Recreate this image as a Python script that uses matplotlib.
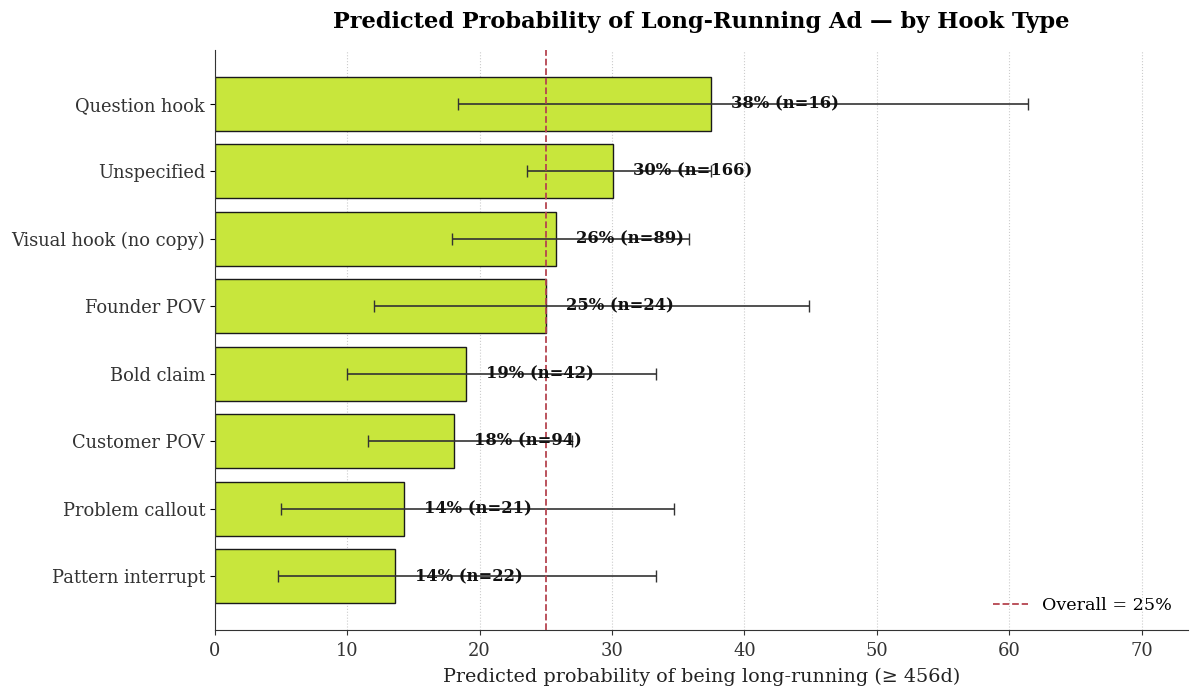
import matplotlib
matplotlib.use("Agg")
import matplotlib.pyplot as plt
import numpy as np

categories = ["Question hook", "Unspecified", "Visual hook (no copy)", "Founder POV",
              "Bold claim", "Customer POV", "Problem callout", "Pattern interrupt"]
probs = [37.5, 30.1, 25.8, 25.0, 19.0, 18.1, 14.3, 13.6]
lower = [18.4, 23.6, 17.9, 12.0, 10.0, 11.6, 5.0, 4.8]
upper = [61.4, 37.5, 35.8, 44.9, 33.3, 27.0, 34.7, 33.3]
counts = [16, 166, 89, 24, 42, 94, 21, 22]
overall = 25

plt.rcParams['font.family'] = ['DejaVu Serif']
fig = plt.figure(figsize=(12, 6.99), dpi=100)
ax = fig.add_axes([0.179, 0.099, 0.811, 0.829])

y = np.arange(len(categories))
p = np.array(probs)
err = np.vstack([p - np.array(lower), np.array(upper) - p])
ax.barh(y, p, height=0.8, color='#c8e63c', edgecolor='#1a1a1a', linewidth=1.0, zorder=2)
ax.errorbar(p, y, xerr=err, fmt='none', ecolor='#333333', elinewidth=1.2, capsize=4, capthick=1.0, zorder=3)
for yi, v, n in zip(y, probs, counts):
    ax.text(v + 1.5, yi, f"{v:.0f}% (n={n})", ha='left', va='center', fontsize=11.8,
            fontweight='bold', color='#111111', zorder=4)
ax.axvline(overall, color='#b5444f', linestyle='--', linewidth=1.3, label=f"Overall = {overall}%", zorder=3)

ax.set_yticks(y)
ax.set_yticklabels(categories, fontsize=12.9, color='#333333')
ax.invert_yaxis()
ax.set_xlim(0, 73.5)
ax.set_xticks(range(0, 71, 10))
ax.tick_params(axis='x', labelsize=12.9, colors='#333333', pad=5)
ax.tick_params(axis='x', color='#333333')
ax.set_xlabel("Predicted probability of being long-running (≥ 456d)", fontsize=13.8,
              color='#222222', labelpad=6)
ax.set_title("Predicted Probability of Long-Running Ad — by Hook Type", fontsize=16.2,
             fontweight='bold', pad=16)
ax.grid(axis='x', linestyle=':', color='#cccccc', linewidth=0.8, zorder=0)
ax.set_axisbelow(True)
for s in ['top', 'right']:
    ax.spines[s].set_visible(False)
ax.spines['bottom'].set_color('#333333')
ax.spines['left'].set_color('#333333')
ax.legend(loc='lower right', frameon=False, fontsize=12.6)

fig.savefig("out.png", dpi=100)
